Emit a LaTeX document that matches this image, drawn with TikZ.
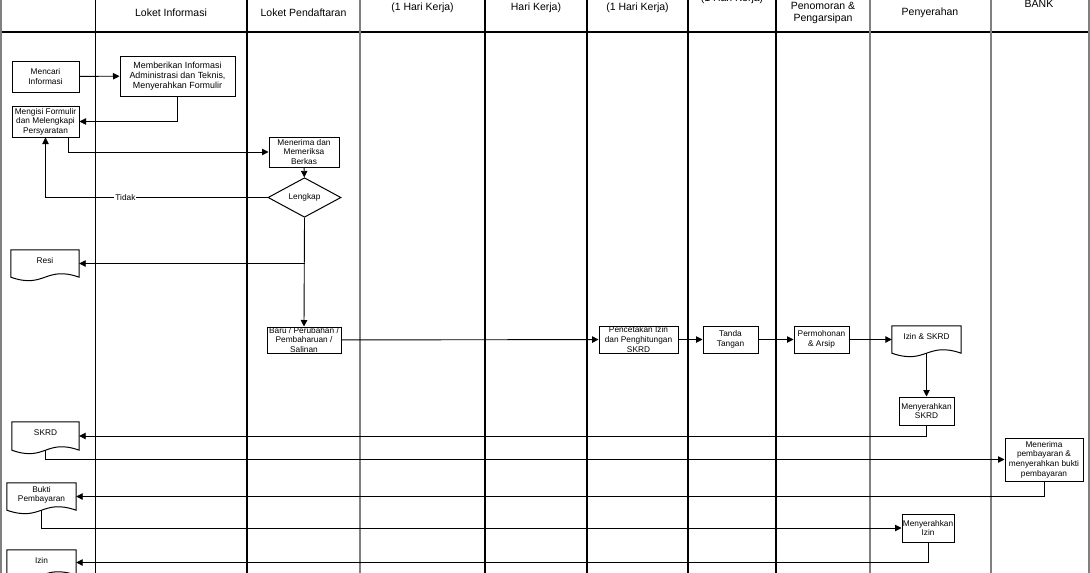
\documentclass[tikz,border=0pt]{standalone}
\usepackage{fontspec}
\setmainfont{Liberation Sans}
\usetikzlibrary{arrows.meta,calc,shapes.geometric}
\newcommand\docout[1]{\draw[docline] (#1.south west) -- (#1.north west) -- (#1.north east) -- (#1.south east) .. controls ($(#1.south)+(0,-12)$) and ($(#1.south)+(0,12)$) .. (#1.south west) -- cycle;}
\tikzset{
  lane/.style={line width=1.1pt, black},
  glane/.style={line width=2pt, color=gray},
  box/.style={draw, line width=1pt, fill=white, inner sep=0pt, align=center, font=\fontsize{8.3}{9.6}\selectfont},
  doc/.style={inner sep=0pt, align=center, text depth=7pt, font=\fontsize{8.3}{9.6}\selectfont},
  docline/.style={line width=1pt, fill=white},
  conn/.style={line width=0.9pt, -{Triangle[length=6.5pt,width=6.5pt]}},
  hdr/.style={font=\fontsize{10.5}{12.5}\selectfont, align=center, inner sep=0pt},
  lbl/.style={font=\fontsize{8.3}{9.6}\selectfont, fill=white, inner sep=1pt},
}
\begin{document}
\begin{tikzpicture}[x=1pt,y=-1pt]
\useasboundingbox (0,0) rectangle (1090,573);
\clip (0,0) rectangle (1090,573);
\fill[white] (0,0) rectangle (1090,573);
% lanes
\draw[lane] (0,32) -- (1090,32);
\foreach \x in {95.5,247,485,587,688,776} \draw[lane] (\x,0) -- (\x,580);
\foreach \x in {1,360,870,990.5,1088.5} \draw[glane] (\x,0) -- (\x,580);
% headers
\node[hdr] (h1) at (171,13) {Loket Informasi};
\node[hdr] (h2) at (303.5,13) {Loket Pendaftaran};
\node[hdr] (h3) at (422.5,7.5) {(1 Hari Kerja)};
\node[hdr] (h4) at (536,7.5) {Hari Kerja)};
\node[hdr] (h5) at (637.5,7.5) {(1 Hari Kerja)};
\node[hdr] (h6) at (732,-1.5) {(1 Hari Kerja)};
\node[hdr] (h7) at (823,13) {Penomoran \&\\Pengarsipan};
\node[hdr] (h8) at (930,12.5) {Penyerahan};
\node[hdr] (h9) at (1039,3.5) {BANK};
% process boxes
\node[box, minimum width=67pt, minimum height=31pt] (mencari) at (45.5,76.5) {Mencari\\Informasi};
\node[box, minimum width=115pt, minimum height=40pt, font=\fontsize{8.9}{9.8}\selectfont] (memberi) at (177.5,76) {Memberikan Informasi\\Administrasi dan Teknis,\\Menyerahkan Formulir};
\node[box, minimum width=67pt, minimum height=31pt] (mengisi) at (45.5,121.5) {Mengisi Formulir\\dan Melengkapi\\Persyaratan};
\node[box, minimum width=70pt, minimum height=30pt] (menerima) at (304,152) {Menerima dan\\Memeriksa\\Berkas};
\node[draw, shape=diamond, line width=1pt, fill=white, inner sep=0pt, minimum width=73pt, minimum height=30pt, font=\fontsize{8.3}{9.6}\selectfont] (lengkap) at (304.5,197.5) {Lengkap};
\node[box, minimum width=74pt, minimum height=26pt] (baru) at (304,340) {Baru / Perubahan /\\Pembaharuan /\\Salinan};
\node[box, minimum width=79pt, minimum height=27pt] (pencetakan) at (638.5,339.5) {Pencetakan Izin\\dan Penghitungan\\SKRD};
\node[box, minimum width=55pt, minimum height=27pt] (tanda) at (730.5,339.5) {Tanda\\Tangan};
\node[box, minimum width=55pt, minimum height=27pt] (permohonan) at (821.5,339.5) {Permohonan\\\& Arsip};
\node[box, minimum width=55pt, minimum height=28pt] (menyskrd) at (926.5,411) {Menyerahkan\\SKRD};
\node[box, minimum width=78pt, minimum height=43pt] (bank) at (1044,459.5) {Menerima\\pembayaran \&\\menyerahkan bukti\\pembayaran};
\node[box, minimum width=52pt, minimum height=28pt] (menyizin) at (928,528) {Menyerahkan\\Izin};
% documents
\node[doc, minimum width=68pt, minimum height=27pt] (resi) at (45,263.5) {};
\docout{resi}
\node[doc, minimum width=68pt, minimum height=27pt] at (resi) {Resi};
\node[doc, minimum width=69pt, minimum height=27pt] (izinskrd) at (926.5,339.5) {};
\docout{izinskrd}
\node[doc, minimum width=69pt, minimum height=27pt] at (izinskrd) {Izin \& SKRD};
\node[doc, minimum width=67pt, minimum height=28pt] (skrd) at (45.5,436) {};
\docout{skrd}
\node[doc, minimum width=67pt, minimum height=28pt] at (skrd) {SKRD};
\node[doc, minimum width=69pt, minimum height=27pt] (bukti) at (41.5,496.5) {};
\docout{bukti}
\node[doc, minimum width=69pt, minimum height=27pt, text depth=5pt] at (bukti) {Bukti\\Pembayaran};
\node[doc, minimum width=69pt, minimum height=25pt] (izin) at (41.5,562.5) {};
\docout{izin}
\node[doc, minimum width=69pt, minimum height=25pt, text depth=4pt] at (izin) {Izin};
% connectors
\draw[conn] (mencari) -- (memberi);
\draw[conn] (memberi.south) |- (mengisi.east);
\draw[conn] ([xshift=22.5pt]mengisi.south) |- (menerima.west);
\draw[conn] (menerima) -- (lengkap);
\draw[conn] (lengkap.west) -| node[lbl, pos=0.32] {Tidak} (mengisi.south);
\draw[conn] (lengkap.south) -- (baru.north);
\draw[conn] (lengkap.south |- resi.east) -- (resi.east);
\draw[conn] (baru) -- (pencetakan);
\draw[conn] (pencetakan) -- (tanda);
\draw[conn] (tanda) -- (permohonan);
\draw[conn] (permohonan) -- (izinskrd);
\draw[conn] (izinskrd.south) -- (menyskrd.north);
\draw[conn] (menyskrd.south) |- (skrd.east);
\draw[conn] (skrd.south) |- (bank.west);
\draw[conn] (bank.south) |- (bukti.east);
\draw[conn] (bukti.south) |- (menyizin.west);
\draw[conn] (menyizin.south) |- (izin.east);
\end{tikzpicture}
\end{document}
